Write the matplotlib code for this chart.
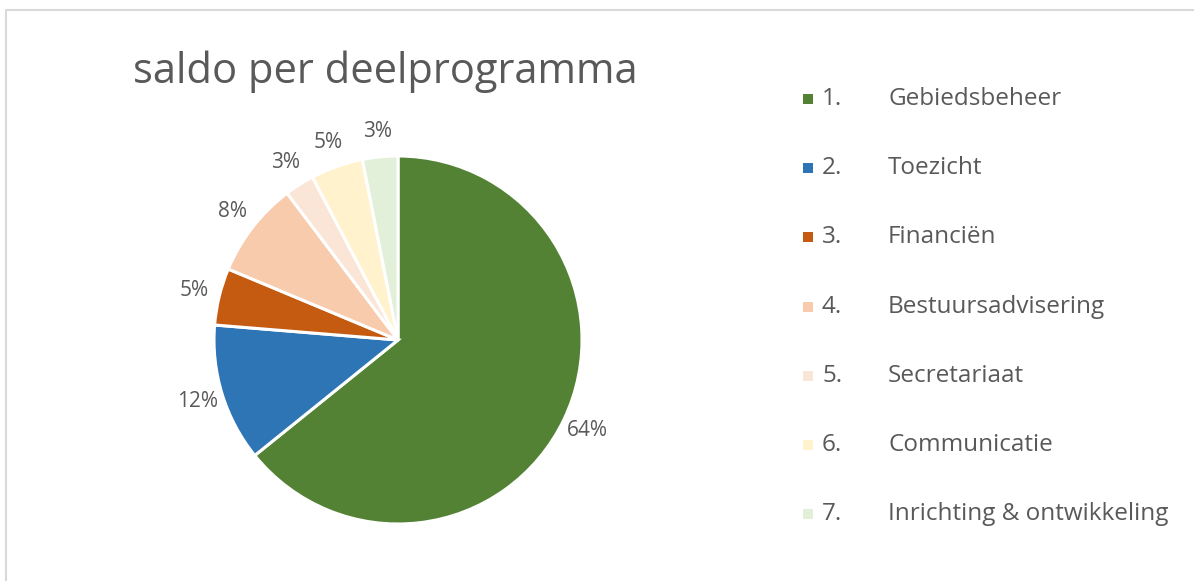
import matplotlib.pyplot as plt
from matplotlib.patches import Rectangle

# data
nummers = ["1.", "2.", "3.", "4.", "5.", "6.", "7."]
programmas = ["Gebiedsbeheer", "Toezicht", "Financiën", "Bestuursadvisering",
              "Secretariaat", "Communicatie", "Inrichting & ontwikkeling"]
aandeel = [64.2, 12.1, 5.0, 8.4, 2.6, 4.6, 3.1]
kleuren = ["#548235", "#2E75B6", "#C55A11", "#F8CBAD", "#FBE5D6", "#FFF2CC", "#E2F0D9"]

tekst_kleur = "#595959"
plt.rcParams['font.family'] = ['Open Sans', 'DejaVu Sans']

W, H = 1194, 581
fig = plt.figure(figsize=(W / 100, H / 100), dpi=100)

# light frame of the chart area
fig.patches.append(Rectangle((6 / W, -0.1), 1.1, (H - 10) / H + 0.1, transform=fig.transFigure,
                             fill=False, edgecolor="#D9D9D9", linewidth=1.5))

# pie: centre (398, 340), radius 184 px
r = 184
ax = fig.add_axes([(398 - r) / W, (H - 340 - r) / H, 2 * r / W, 2 * r / H])
wedges, texts, autotexts = ax.pie(aandeel, colors=kleuren, startangle=90, counterclock=False,
                                  autopct='%.0f%%', pctdistance=1.14,
                                  wedgeprops=dict(edgecolor="white", linewidth=2.2),
                                  textprops=dict(color=tekst_kleur, fontsize=15))
ax.set_xlim(-1, 1)
ax.set_ylim(-1, 1)
ax.set_aspect('equal')
ax.axis('off')

fig.text(133 / W, 1 - 72 / H, "saldo per deelprogramma", fontsize=30, color=tekst_kleur,
         ha="left", va="center")

# legend drawn by hand
y0, dy = 99, 69.2
for i, (nr, naam, kl) in enumerate(zip(nummers, programmas, kleuren)):
    y = 1 - (y0 + i * dy) / H
    fig.patches.append(Rectangle((803 / W, y - 5 / H), 10 / W, 10 / H, transform=fig.transFigure,
                                 facecolor=kl, edgecolor="none"))
    fig.text(822 / W, y, nr, fontsize=17.5, color=tekst_kleur, ha="left", va="center")
    fig.text(888 / W, y, naam, fontsize=17.5, color=tekst_kleur, ha="left", va="center")

fig.savefig("out.png", dpi=100)
